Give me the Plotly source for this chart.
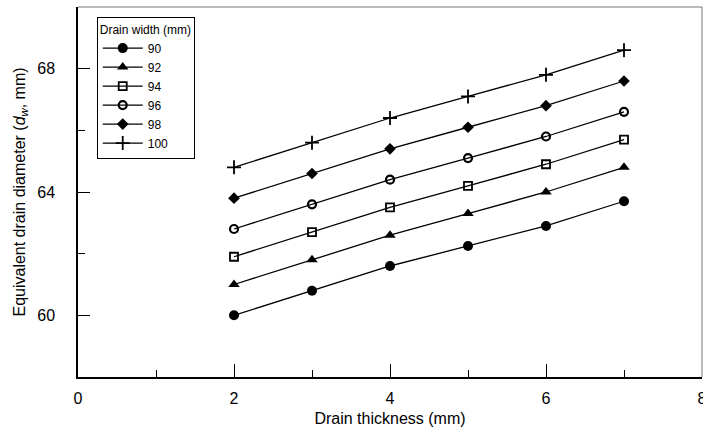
import plotly.graph_objects as go

thickness = [2, 3, 4, 5, 6, 7]
widths = ["90", "92", "94", "96", "98", "100"]
d90 = [60.0, 60.8, 61.6, 62.25, 62.9, 63.7]
d92 = [61.0, 61.8, 62.6, 63.3, 64.0, 64.8]
d94 = [61.9, 62.7, 63.5, 64.2, 64.9, 65.7]
d96 = [62.8, 63.6, 64.4, 65.1, 65.8, 66.6]
d98 = [63.8, 64.6, 65.4, 66.1, 66.8, 67.6]
d100 = [64.8, 65.6, 66.4, 67.1, 67.8, 68.6]
series = [d90, d92, d94, d96, d98, d100]

symbols = ["circle", "triangle-up", "square-open", "circle-open", "diamond", "cross-thin"]
sizes = [10, 10, 8, 8, 9, 10]
lw = [0, 0, 1.8, 2.2, 0, 1.8]

fig = go.Figure()
for name, vals, sym, sz, w in zip(widths, series, symbols, sizes, lw):
    fig.add_trace(go.Scatter(
        x=thickness, y=vals, name=name, mode="lines+markers",
        line=dict(color="black", width=1.3),
        marker=dict(symbol=sym, size=sz, color="black", line=dict(color="black", width=w)),
    ))

font = "Liberation Sans, Arial, sans-serif"
fig.update_layout(
    width=703, height=427,
    margin=dict(l=78, r=1, t=7, b=50),
    paper_bgcolor="white", plot_bgcolor="white",
    font=dict(family=font, color="black", size=16),
    showlegend=True,
    legend=dict(
        x=0.03, y=0.973, xanchor="left", yanchor="top",
        bordercolor="black", borderwidth=1, bgcolor="white",
        font=dict(size=12), title=dict(text="Drain width (mm)", font=dict(size=12)),
        tracegroupgap=0, itemwidth=40,
    ),
    xaxis=dict(
        range=[0, 8], tickvals=[0, 2, 4, 6, 8], ticks="inside", ticklen=13, tickwidth=1,
        tickcolor="black",
        minor=dict(tickvals=[1, 3, 5, 7], ticks="inside", ticklen=7, tickcolor="black", tickwidth=1),
        showline=True, linecolor="black", linewidth=1.5, mirror=False,
        showgrid=False, zeroline=False, automargin=False,
        title=dict(text="Drain thickness (mm)", font=dict(size=16), standoff=7),
        ticklabelstandoff=6, ticklabeloverflow="allow",
    ),
    yaxis=dict(
        range=[58, 70], tickvals=[60, 64, 68], ticks="inside", ticklen=12, tickwidth=1,
        tickcolor="black",
        minor=dict(tickvals=[62, 66], ticks="inside", ticklen=7, tickcolor="black", tickwidth=1),
        showline=True, linecolor="black", linewidth=1.5, mirror=False,
        showgrid=False, zeroline=False, automargin=False,
        title=dict(text="Equivalent drain diameter (<i>d</i><sub><i>w</i></sub>, mm)",
                   font=dict(size=16), standoff=8),
        ticklabelstandoff=18,
    ),
)
fig.add_shape(type="line", xref="paper", yref="paper", x0=0, x1=1, y0=1, y1=1,
              line=dict(color="#777777", width=1))
fig.add_shape(type="line", xref="paper", yref="paper", x0=1, x1=1, y0=0, y1=1,
              line=dict(color="#777777", width=1))

fig.write_html(
    "out.html",
    config={"displayModeBar": False},
    post_script="document.body.style.margin='0';document.body.style.overflow='hidden';",
)
